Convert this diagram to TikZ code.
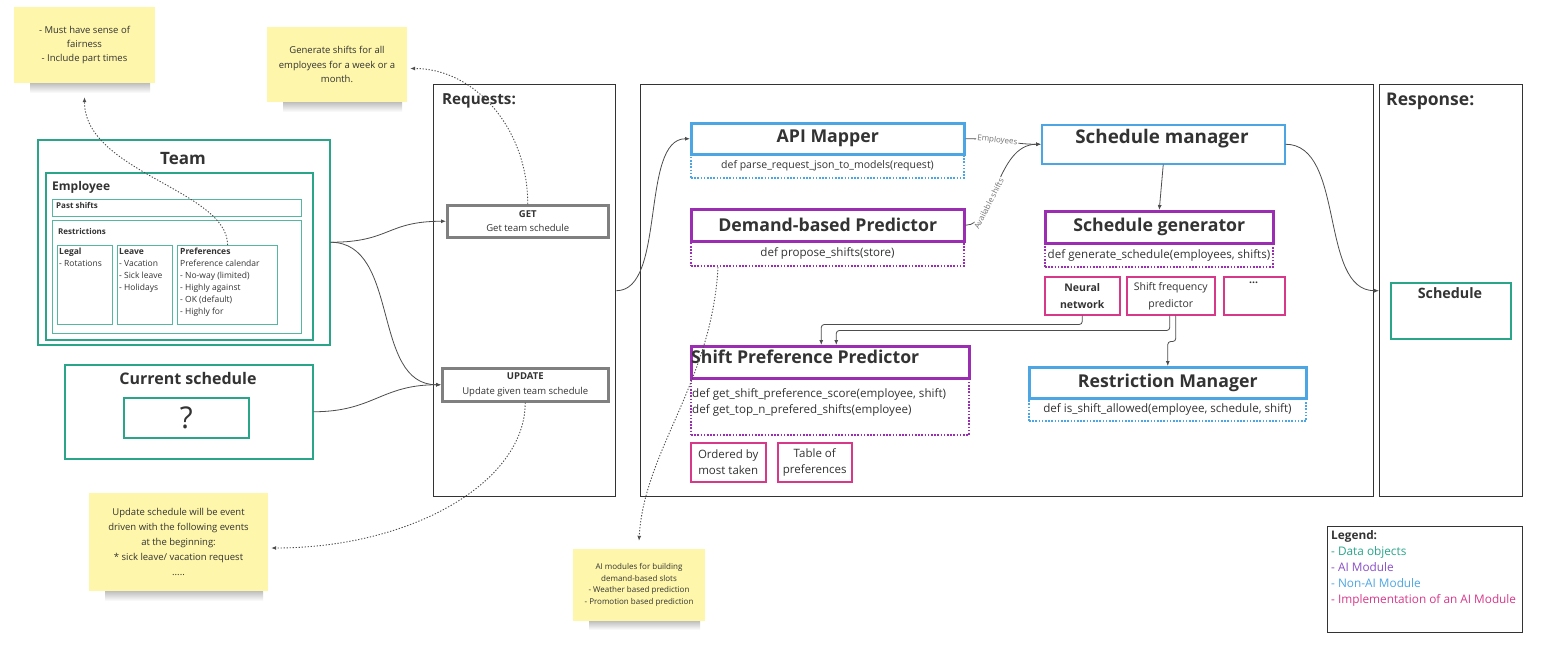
\documentclass[tikz,border=0pt]{standalone}
\usepackage{fontspec}
\setmainfont{Open Sans}
\usepackage{xcolor}
\usetikzlibrary{arrows.meta}

\definecolor{dataclr}{HTML}{2AA58A}
\definecolor{aiclr}{HTML}{9B2DB3}
\definecolor{legaiclr}{HTML}{8A4FC7}
\definecolor{nonaiclr}{HTML}{4CA6E3}
\definecolor{implclr}{HTML}{D8388A}
\definecolor{reqclr}{HTML}{808080}
\definecolor{frameclr}{HTML}{333333}
\definecolor{stickyclr}{HTML}{FEF6AA}
\definecolor{txtclr}{HTML}{333333}
\definecolor{lineclr}{HTML}{4D4D4D}

\begin{document}
\begin{tikzpicture}[x=1pt,y=-1pt,
		every node/.style={text=txtclr, inner sep=0pt},
		sz/.style 2 args={minimum width=#1pt, minimum height=#2pt},
		box/.style={draw, anchor=north west, align=center},
		framebox/.style={box, draw=frameclr, line width=1.4pt},
		databox/.style={box, draw=dataclr, line width=1.5pt},
		inbox/.style={box, draw=dataclr!80, line width=1.2pt},
		reqbox/.style={box, draw=reqclr, line width=2.5pt, font=\fontsize{9.5}{14.5}\selectfont},
		aibox/.style={box, draw=aiclr, line width=2.5pt},
		nonaibox/.style={box, draw=nonaiclr, line width=2.5pt},
		implbox/.style={box, draw=implclr, line width=1.5pt, font=\fontsize{10.5}{17}\selectfont},
		defbox/.style={box, line width=2pt, dash pattern=on 1.6pt off 1.6pt, font=\fontsize{11.6}{16}\selectfont},
		aidef/.style={defbox, draw=aiclr},
		nonaidef/.style={defbox, draw=nonaiclr},
		note/.style={fill=stickyclr, align=center, font=\fontsize{9.5}{14.3}\selectfont},
		noteshadow/.style={top color=black!28, bottom color=white, draw=none},
		modttl/.style={font=\bfseries\fontsize{17.7}{20}\selectfont},
		frttl/.style={anchor=west, font=\bfseries\fontsize{15.2}{17}\selectfont},
		listtxt/.style={anchor=north west, align=left, font=\fontsize{8.5}{12}\selectfont},
		link/.style={draw=lineclr, line width=0.8pt, -{Latex[length=5pt,width=4pt]}},
		memo/.style={draw=lineclr, line width=0.9pt, dash pattern=on 1.3pt off 1.7pt, -{Latex[length=5pt,width=4pt]}},
		linktxt/.style={text=black!55, fill=white, inner sep=1pt, font=\fontsize{8}{9}\selectfont},
	]
	\path[use as bounding box, fill=white] (0,0) rectangle (1541,648);
	
	% sticky notes
	\fill[noteshadow] (30,82) rectangle (150,93);
	\node[note, sz={141}{76}] (fairnote) at (84.5,45) {- Must have sense of\\fairness\\- Include part times};
	\fill[noteshadow] (283,101) rectangle (402,112);
	\node[note, sz={140}{75}] (gennote) at (337,64.5) {Generate shifts for all\\employees for a week or a\\month.};
	\fill[noteshadow] (105,590) rectangle (263,601);
	\node[note, sz={179}{98}, font=\fontsize{9.5}{14.8}\selectfont] (updnote) at (178.5,542) {Update schedule will be event\\driven with the following events\\at the beginning:\\* sick leave/ vacation request\\.....};
	\fill[noteshadow] (589,620) rectangle (700,630);
	\node[note, sz={132}{72}, font=\fontsize{8}{11.7}\selectfont] (ainote) at (639,585) {AI modules for building\\demand-based slots\\- Weather based prediction\\- Promotion based prediction};
	
	% team
	\node[databox, sz={292}{205}] (team) at (37,139) {};
	\node[font=\bfseries\fontsize{17}{20}\selectfont] (teamttl) at (183,159) {Team};
	\node[databox, sz={267}{167}] (emp) at (45,172) {};
	\node[anchor=west, font=\bfseries\fontsize{12}{14}\selectfont] (empttl) at (52,187) {Employee};
	\node[inbox, sz={249}{17}] (past) at (52,199) {};
	\node[anchor=west, font=\bfseries\fontsize{8}{10}\selectfont] (pastttl) at (56,205) {Past shifts};
	\node[inbox, sz={249}{113}] (restr) at (52,220) {};
	\node[anchor=west, font=\bfseries\fontsize{8}{10}\selectfont] (restrttl) at (58,231) {Restrictions};
	\node[inbox, sz={55}{79}] (legal) at (57,245) {};
	\node[listtxt] (legaltxt) at (59,248) {\textbf{Legal}\\- Rotations};
	\node[inbox, sz={55}{79}] (leave) at (117,245) {};
	\node[listtxt] (leavetxt) at (119,248) {\textbf{Leave}\\- Vacation\\- Sick leave\\- Holidays};
	\node[inbox, sz={100}{79}] (pref) at (177,245) {};
	\node[listtxt] (preftxt) at (180,248) {\textbf{Preferences}\\Preference calendar\\- No-way (limited)\\- Highly against\\- OK (default)\\- Highly for};
	
	% current schedule
	\node[databox, sz={248}{94}] (cursch) at (64,364) {};
	\node[font=\bfseries\fontsize{16}{18}\selectfont] (curttl) at (188,378) {Current schedule};
	\node[databox, sz={125}{40}, font=\fontsize{30}{30}\selectfont] (unknown) at (123,397) {?};
	
	% requests
	\node[framebox, sz={182}{412}] (req) at (433,84) {};
	\node[frttl] (reqttl) at (442,101) {Requests:};
	\node[reqbox, sz={161}{32}] (get) at (446,204) {\textbf{GET}\\Get team schedule};
	\node[reqbox, sz={166}{33}] (update) at (441,367) {\textbf{UPDATE}\\Update given team schedule};
	
	% modules
	\node[framebox, sz={733}{412}] (core) at (640,84) {};
	\node[nonaibox, sz={273}{31}, modttl] (api) at (690,122) {API Mapper};
	\node[nonaidef, sz={273}{24}, font=\fontsize{10.5}{16}\selectfont] (apidef) at (690,153) {def parse\_request\_json\_to\_models(request)};
	\node[aibox, sz={273}{32}, modttl] (dbp) at (690,208) {Demand-based Predictor};
	\node[aidef, sz={273}{25}] (dbpdef) at (690,240) {def propose\_shifts(store)};
	\node[nonaibox, line width=1.5pt, sz={243}{39}] (smgr) at (1041,124) {};
	\node[font=\bfseries\fontsize{18.8}{21}\selectfont] (smgrttl) at (1162,139) {Schedule manager};
	\node[aibox, sz={228}{32}, modttl] (sgen) at (1044,210) {Schedule generator};
	\node[aidef, sz={228}{24}] (sgendef) at (1044,242) {def generate\_schedule(employees, shifts)};
	\node[implbox, sz={75}{38}, font=\bfseries\fontsize{10.5}{17}\selectfont] (nn) at (1044,276) {Neural\\network};
	\node[implbox, sz={88}{38}] (sfp) at (1126,276) {Shift frequency\\predictor};
	\node[implbox, sz={61}{38}] (more) at (1223,276) {};
	\node[font=\bfseries\fontsize{10.5}{12}\selectfont] (moretxt) at (1253.5,283) {...};
	\node[nonaibox, sz={277}{31}, modttl] (rm) at (1028,366) {Restriction Manager};
	\node[nonaidef, sz={277}{23}] (rmdef) at (1028,397) {def is\_shift\_allowed(employee, schedule, shift)};
	\node[aibox, sz={278}{32}] (spp) at (690,345) {};
	\node[modttl, anchor=west] (sppttl) at (691,357) {Shift Preference Predictor};
	\node[aidef, sz={278}{57}] (sppdef) at (690,377) {};
	\node[anchor=north west, align=left, font=\fontsize{11.6}{16}\selectfont] (sppdeftxt) at (692,388) {def get\_shift\_preference\_score(employee, shift)\\def get\_top\_n\_prefered\_shifts(employee)};
	\node[implbox, sz={75}{39}, font=\fontsize{11.5}{16}\selectfont] (ordered) at (690,442) {Ordered by\\most taken};
	\node[implbox, sz={74}{39}, font=\fontsize{11.5}{16}\selectfont] (preftable) at (777,442) {Table of\\preferences};
	
	% response
	\node[framebox, sz={143}{412}] (resp) at (1379,84) {};
	\node[frttl, font=\bfseries\fontsize{17.5}{20}\selectfont] (respttl) at (1386,101) {Response:};
	\node[databox, sz={120}{56}] (sched) at (1390,282) {};
	\node[font=\bfseries\fontsize{14.3}{16}\selectfont] (schedttl) at (1450,293) {Schedule};
	
	% legend
	\node[framebox, sz={195}{106}] (legend) at (1327,526) {};
	\node[anchor=north west, align=left, font=\fontsize{11.8}{16}\selectfont] (legendtxt) at (1331,530) {\textbf{Legend:}\\{\color{dataclr}- Data objects}\\{\color{legaiclr}- AI Module}\\{\color{nonaiclr}- Non-AI Module}\\{\color{implclr}- Implementation of an AI Module}};
	
	% connectors
	\draw[link] (team.east) .. controls +(60,0) and +(-60,0) .. (get.west);
	\draw[link] (team.east) .. controls +(70,0) and +(-70,0) .. (update.west);
	\draw[link] (cursch.east) .. controls +(60,0) and +(-60,0) .. (update.west);
	\draw[link] (req.east) .. controls +(50,0) and +(-50,0) .. (api.west);
	\draw[link] (api.east) .. controls +(40,0) and +(-30,0) .. node[linktxt, pos=0.35, sloped] (emplbl) {Employees} (smgr.west);
	\draw[link] (dbp.east) .. controls +(30,0) and +(-45,0) .. node[linktxt, pos=0.34, sloped] (shiftlbl) {Available shifts} (smgr.west);
	\draw[link] (smgr.south) -- (sgen.north);
	\draw[link] (smgr.east) .. controls +(60,0) and +(-60,0) .. (resp.west);
	\draw[link, rounded corners=3pt] (nn.south) -- ++(0,9) -| ([xshift=-9pt]spp.north);
	\draw[link, rounded corners=3pt] ([xshift=-1pt]sfp.south) -- ++(0,15) -| ([xshift=6pt]spp.north);
	\draw[link, rounded corners=3pt] ([xshift=5pt]sfp.south) -- ++(0,26) -| (rm.north);
	
	% memo links
	\draw[memo] (pref.north) .. controls +(0,-55) and +(0,75) .. ([yshift=-14pt]fairnote.south);
	\draw[memo] (get.north) .. controls +(0,-75) and +(65,0) .. ([xshift=3pt,yshift=-4pt]gennote.east);
	\draw[memo] (update.south) .. controls +(0,80) and +(140,0) .. ([xshift=3pt,yshift=-6pt]updnote.east);
	\draw[memo] ([xshift=28pt]dbpdef.south west) .. controls +(-6,115) and +(5,-90) .. ([yshift=8pt]ainote.north);
	
\end{tikzpicture}
\end{document}
